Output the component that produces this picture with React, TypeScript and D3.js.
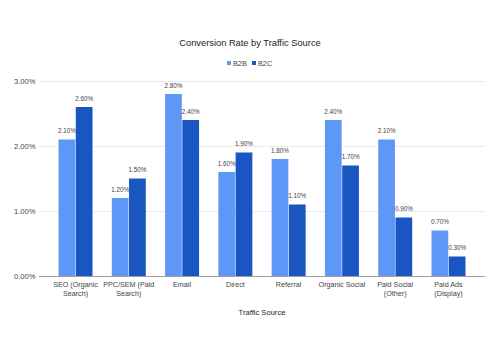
import React, { useEffect, useRef } from "react";
import * as d3 from "d3";

const categories = [
  "SEO (Organic Search)",
  "PPC/SEM (Paid Search)",
  "Email",
  "Direct",
  "Referral",
  "Organic Social",
  "Paid Social (Other)",
  "Paid Ads (Display)",
];
const catLines = [
  ["SEO (Organic", "Search)"],
  ["PPC/SEM (Paid", "Search)"],
  ["Email"],
  ["Direct"],
  ["Referral"],
  ["Organic Social"],
  ["Paid Social", "(Other)"],
  ["Paid Ads", "(Display)"],
];
const series = ["B2B", "B2C"];
const b2b = [2.1, 1.2, 2.8, 1.6, 1.8, 2.4, 2.1, 0.7];
const b2c = [2.6, 1.5, 2.4, 1.9, 1.1, 1.7, 0.9, 0.3];
const yTicks = [0, 1, 2, 3];
const colors = ["#5e97f6", "#1a56c2"];

const App = () => {
  const svgRef = useRef<SVGSVGElement>(null);

  useEffect(() => {
    const svg = d3.select(svgRef.current);
    svg.selectAll("*").remove();
    const font = "'Liberation Sans', Arial, sans-serif";

    const left = 39;
    const right = 485;
    const top = 81;
    const bottom = 276;

    const x = d3
      .scaleBand()
      .domain(categories)
      .range([left, right])
      .paddingInner(0.362)
      .paddingOuter(0.366);
    const x1 = d3.scaleBand().domain(series).range([0, x.bandwidth()]).paddingInner(0.03);
    const y = d3.scaleLinear().domain([0, 3]).range([bottom, top]);

    svg.append("rect").attr("width", 500).attr("height", 354).attr("fill", "#fff");

    // title
    svg
      .append("text")
      .attr("x", 250)
      .attr("y", 46)
      .attr("text-anchor", "middle")
      .attr("font-family", font)
      .attr("font-size", 9.3)
      .attr("fill", "#222")
      .text("Conversion Rate by Traffic Source");

    // legend
    const legend = svg.append("g").attr("font-family", font).attr("font-size", 7.3).attr("fill", "#444");
    const lx = [227, 252];
    series.forEach((s, i) => {
      legend
        .append("rect")
        .attr("x", lx[i])
        .attr("y", 61)
        .attr("width", 4)
        .attr("height", 4)
        .attr("fill", colors[i]);
      legend
        .append("text")
        .attr("x", lx[i] + 6)
        .attr("y", 65.5)
        .text(s);
    });

    // grid + y labels
    const grid = svg.append("g");
    yTicks.forEach((t) => {
      grid
        .append("line")
        .attr("x1", left)
        .attr("x2", right)
        .attr("y1", y(t) + 0.5)
        .attr("y2", y(t) + 0.5)
        .attr("stroke", t === 0 ? "#9e9e9e" : "#ebebeb")
        .attr("stroke-width", 1);
      grid
        .append("text")
        .attr("x", 35.5)
        .attr("y", y(t) + 3)
        .attr("text-anchor", "end")
        .attr("font-family", font)
        .attr("font-size", 7.6)
        .attr("fill", "#444")
        .text(d3.format(".2f")(t) + "%");
    });

    // bars
    const data = [b2b, b2c];
    const bars = svg.append("g");
    categories.forEach((c, ci) => {
      series.forEach((s, si) => {
        const v = data[si][ci];
        const bx = (x(c) as number) + (x1(s) as number);
        bars
          .append("rect")
          .attr("x", bx)
          .attr("y", y(v))
          .attr("width", x1.bandwidth())
          .attr("height", y(0) - y(v))
          .attr("fill", colors[si]);
        bars
          .append("text")
          .attr("x", bx + x1.bandwidth() / 2)
          .attr("y", y(v) - 6.5)
          .attr("text-anchor", "middle")
          .attr("font-family", font)
          .attr("font-size", 6.3)
          .attr("fill", "#444")
          .text(d3.format(".2f")(v) + "%");
      });
    });
    // redraw baseline above bars
    svg
      .append("line")
      .attr("x1", left)
      .attr("x2", right)
      .attr("y1", y(0) + 0.5)
      .attr("y2", y(0) + 0.5)
      .attr("stroke", "#9e9e9e");

    // category labels
    const xl = svg.append("g").attr("font-family", font).attr("font-size", 7.2).attr("fill", "#444");
    categories.forEach((c, ci) => {
      const cx = (x(c) as number) + x.bandwidth() / 2;
      const t = xl.append("text").attr("text-anchor", "middle");
      catLines[ci].forEach((line, li) => {
        t.append("tspan")
          .attr("x", cx)
          .attr("y", 286.5 + li * 9.3)
          .text(line);
      });
    });

    // x axis title
    svg
      .append("text")
      .attr("x", (left + right) / 2)
      .attr("y", 314.5)
      .attr("text-anchor", "middle")
      .attr("font-family", font)
      .attr("font-size", 7.6)
      .attr("fill", "#222")
      .text("Traffic Source");
  }, []);

  return (
    <svg
      ref={svgRef}
      width={500}
      height={354}
      style={{ position: "absolute", left: 0, top: 0, display: "block" }}
    ></svg>
  );
};

export default App;
